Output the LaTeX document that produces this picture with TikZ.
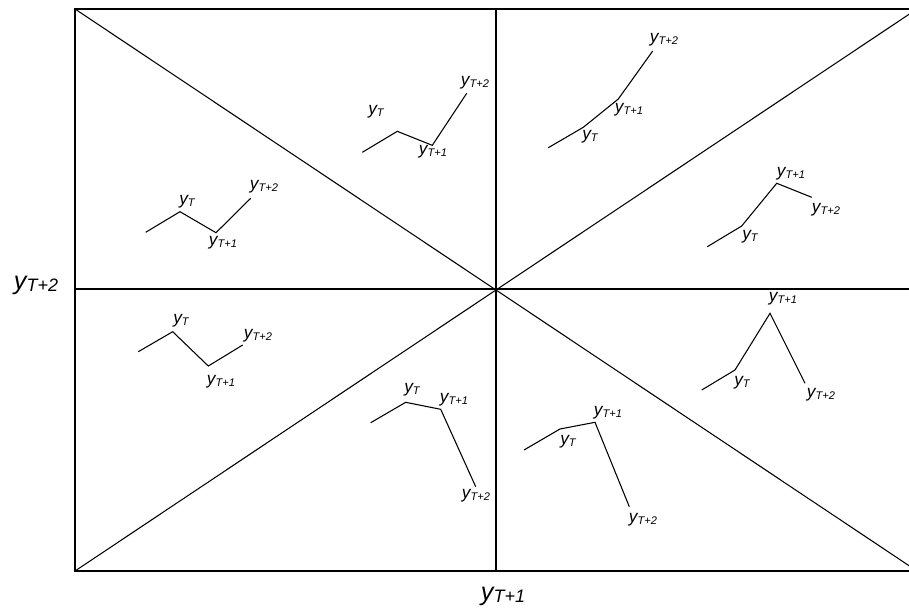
\documentclass[tikz,border=0pt]{standalone}
\usepackage{fontspec}
\setmainfont{Liberation Sans}
\newcommand{\ylab}[1]{{\fontsize{13}{13}\selectfont\itshape y}\raisebox{-1pt}{\fontsize{8.3}{8.3}\selectfont\itshape #1}}
\newcommand{\yaxis}[1]{{\fontsize{19}{19}\selectfont\itshape y}\raisebox{-1.5pt}{\fontsize{13.5}{13.5}\selectfont\itshape #1}}
\tikzset{lbl/.style={inner sep=0pt},
  path/.style={line width=0.8pt},
  frame/.style={line width=0.8pt}}

\begin{document}
\begin{tikzpicture}[x=0.75pt,y=-0.75pt]
\useasboundingbox (0,0) rectangle (909,614);
%FRAME
\coordinate (tl) at (75,9);
\coordinate (tr) at (917,9);
\coordinate (bl) at (75,571);
\coordinate (br) at (917,571);
\coordinate (tm) at (496,9);
\coordinate (bm) at (496,571);
\coordinate (lm) at (75,289);
\coordinate (rm) at (917,289);
\draw[frame] (tl) -- (tr) -- (br) -- (bl) -- cycle;
\draw[frame] (tm) -- (bm);
\draw[frame] (lm) -- (rm);
\draw[frame] (tl) -- (br);
\draw[frame] (bl) -- (tr);
%AXIS LABELS
\node[lbl] (ax2) at (36,285) {\yaxis{T+2}};
\node[lbl] (ax1) at (503,596) {\yaxis{T+1}};
%UP DOWN UP (left upper)
\coordinate (a0) at (145.7,232.3);
\coordinate (a1) at (180,211.7);
\coordinate (a2) at (216,232.7);
\coordinate (a3) at (250.7,198.3);
\draw[path] (a0) -- (a1) -- (a2) -- (a3);
\node[lbl] (a1l) at (187,202) {\ylab{T}};
\node[lbl] (a2l) at (223,243) {\ylab{T+1}};
\node[lbl] (a3l) at (264,187) {\ylab{T+2}};
%UP DOWN UP steep
\coordinate (b0) at (362.3,152.3);
\coordinate (b1) at (397.3,131.3);
\coordinate (b2) at (432.3,145.3);
\coordinate (b3) at (466.7,93.3);
\draw[path] (b0) -- (b1) -- (b2) -- (b3);
\node[lbl] (b1l) at (376,112) {\ylab{T}};
\node[lbl] (b2l) at (433,152) {\ylab{T+1}};
\node[lbl] (b3l) at (475,83) {\ylab{T+2}};
%UP UP UP
\coordinate (c0) at (548.3,147.7);
\coordinate (c1) at (583.3,127.3);
\coordinate (c2) at (618.3,99);
\coordinate (c3) at (652.7,51);
\draw[path] (c0) -- (c1) -- (c2) -- (c3);
\node[lbl] (c1l) at (590,137) {\ylab{T}};
\node[lbl] (c2l) at (629,110) {\ylab{T+1}};
\node[lbl] (c3l) at (664,40) {\ylab{T+2}};
%UP UP DOWN small
\coordinate (d0) at (707.3,246.7);
\coordinate (d1) at (741.7,226);
\coordinate (d2) at (776.7,183.3);
\coordinate (d3) at (811.7,197.3);
\draw[path] (d0) -- (d1) -- (d2) -- (d3);
\node[lbl] (d1l) at (750,237) {\ylab{T}};
\node[lbl] (d2l) at (791,174) {\ylab{T+1}};
\node[lbl] (d3l) at (826,210) {\ylab{T+2}};
%UP DOWN UP (left lower)
\coordinate (e0) at (138.3,351.7);
\coordinate (e1) at (172.7,331.7);
\coordinate (e2) at (208.3,366);
\coordinate (e3) at (242.7,345);
\draw[path] (e0) -- (e1) -- (e2) -- (e3);
\node[lbl] (e1l) at (181,321) {\ylab{T}};
\node[lbl] (e2l) at (221,382) {\ylab{T+1}};
\node[lbl] (e3l) at (258,336) {\ylab{T+2}};
%UP DOWN DOWN
\coordinate (f0) at (370.7,422.7);
\coordinate (f1) at (405.7,402.3);
\coordinate (f2) at (440.7,409.3);
\coordinate (f3) at (475.7,486.7);
\draw[path] (f0) -- (f1) -- (f2) -- (f3);
\node[lbl] (f1l) at (412,390) {\ylab{T}};
\node[lbl] (f2l) at (454,400) {\ylab{T+1}};
\node[lbl] (f3l) at (476,496) {\ylab{T+2}};
%UP UP DOWN steep
\coordinate (g0) at (524,450);
\coordinate (g1) at (560,429);
\coordinate (g2) at (595,422.3);
\coordinate (g3) at (629.3,506.7);
\draw[path] (g0) -- (g1) -- (g2) -- (g3);
\node[lbl] (g1l) at (568,442) {\ylab{T}};
\node[lbl] (g2l) at (608,413) {\ylab{T+1}};
\node[lbl] (g3l) at (643,520) {\ylab{T+2}};
%UP UP DOWN big
\coordinate (h0) at (701.7,390);
\coordinate (h1) at (735,370);
\coordinate (h2) at (770,313.3);
\coordinate (h3) at (805,383.3);
\draw[path] (h0) -- (h1) -- (h2) -- (h3);
\node[lbl] (h1l) at (742,383) {\ylab{T}};
\node[lbl] (h2l) at (783,299) {\ylab{T+1}};
\node[lbl] (h3l) at (821,395) {\ylab{T+2}};
\end{tikzpicture}
\end{document}
